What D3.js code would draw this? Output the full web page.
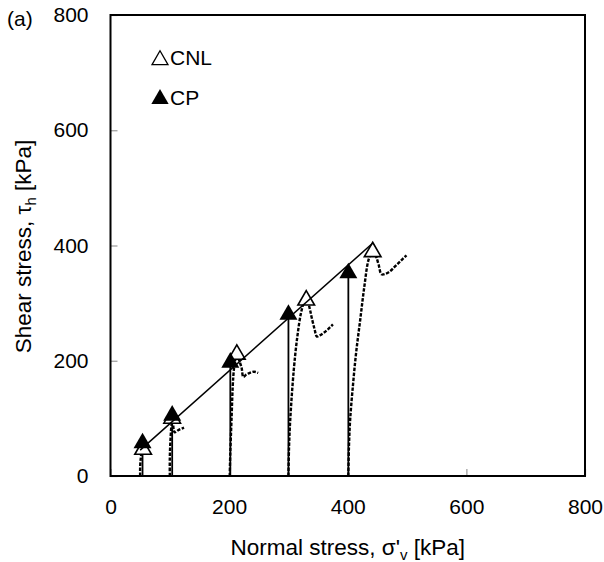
<!DOCTYPE html>
<html>
<head>
<meta charset="utf-8">
<script src="https://cdn.jsdelivr.net/npm/d3@7"></script>
<style>
  body { margin: 0; background: #fff; }
  svg { font-family: Arial, "Liberation Sans", sans-serif; }
</style>
</head>
<body>
<svg width="604" height="562"></svg>
<script>
// ---- data ----
var xTicks = [0, 200, 400, 600, 800];
var yTicks = [0, 200, 400, 600, 800];

// CNL stress paths (dashed), [sigma, tau]
var cnl50  = [[50,0],[50,15],[51,30],[53,42],[56,44],[60,40]];
var cnl100 = [[100,0],[100,30],[101,60],[103,90],[105,100],[108,76],[115,80],[124,84]];
var cnl200 = [[201,0],[202,40],[204,97],[207,172],[210,200],[213,210],[217,200],[221,188],[224,172],[229,176],[235,179],[242,181],[249,179]];
var cnl300 = [[300,0],[301,50],[303,97],[309,184],[315,242],[321,282],[326,300],[331,306],[336,290],[339,276],[344,255],[348,242],[353,244],[359,248],[366,254],[375,263]];
var cnl400 = [[401,0],[402,50],[404,97],[409,160],[414,213],[421,271],[428,329],[435,375],[440,386],[444,388],[448,380],[452,367],[457,350],[464,351],[471,355],[478,362],[485,369],[492,376],[499,383]];
var cnlPaths = [cnl50, cnl100, cnl200, cnl300, cnl400];

// CNL peaks (open triangles)
var cnlPeakX = [55, 104, 213, 330, 442];
var cnlPeakY = [46, 100, 211, 305, 389];

// CP tests: normal stress and peak (filled triangles)
var cpX = [54, 104, 202, 300, 401];
var cpY = [57, 105, 197, 280, 352];

// failure envelope
var envX = [50, 441];
var envY = [45, 403];

// ---- layout ----
var svg = d3.select("svg");
var mLeft = 110.5, mRight = 585, mTop = 15, mBottom = 476;

var x = d3.scaleLinear().domain([0, 800]).range([mLeft, mRight]);
var y = d3.scaleLinear().domain([0, 800]).range([mBottom, mTop]);

// axes: inner gray ticks + labels
var xAxis = svg.append("g")
    .attr("transform", "translate(0," + mBottom + ")")
    .call(d3.axisBottom(x).tickValues(xTicks).tickSize(-7).tickPadding(23));
var yAxis = svg.append("g")
    .attr("transform", "translate(" + mLeft + ",0)")
    .call(d3.axisLeft(y).tickValues(yTicks).tickSize(-7).tickPadding(22));

[xAxis, yAxis].forEach(function(a) {
    a.select(".domain").remove();
    a.selectAll(".tick line").attr("stroke", "#999").attr("stroke-width", 1.2);
    a.selectAll(".tick text").attr("font-size", 21).attr("fill", "#000")
        .attr("font-family", "Arial, 'Liberation Sans', sans-serif");
});

// stress paths
var line = d3.line()
    .x(function(d) { return x(d[0]); })
    .y(function(d) { return y(d[1]); })
    .curve(d3.curveCatmullRom);

svg.append("g").selectAll("path")
    .data(cnlPaths)
    .enter().append("path")
    .attr("d", line)
    .attr("fill", "none")
    .attr("stroke", "#000")
    .attr("stroke-width", 2.4)
    .attr("stroke-dasharray", "3.5,1.5");

// CP vertical paths
svg.append("g").selectAll("line")
    .data(cpX)
    .enter().append("line")
    .attr("x1", function(d) { return x(d); })
    .attr("x2", function(d) { return x(d); })
    .attr("y1", y(0))
    .attr("y2", function(d, i) { return y(cpY[i]); })
    .attr("stroke", "#000")
    .attr("stroke-width", 1.8);

// open triangles (CNL peaks)
var tri = d3.symbol().type(d3.symbolTriangle).size(120);
svg.append("g").selectAll("path")
    .data(cnlPeakX)
    .enter().append("path")
    .attr("d", tri)
    .attr("transform", function(d, i) { return "translate(" + x(d) + "," + y(cnlPeakY[i]) + ")"; })
    .attr("fill", "#fff")
    .attr("stroke", "#000")
    .attr("stroke-width", 1.6);

// failure envelope
svg.append("line")
    .attr("x1", x(envX[0])).attr("y1", y(envY[0]))
    .attr("x2", x(envX[1])).attr("y2", y(envY[1]))
    .attr("stroke", "#000")
    .attr("stroke-width", 1.5);

// filled triangles (CP)
svg.append("g").selectAll("path")
    .data(cpX)
    .enter().append("path")
    .attr("d", d3.symbol().type(d3.symbolTriangle).size(140))
    .attr("transform", function(d, i) { return "translate(" + x(d) + "," + y(cpY[i]) + ")"; })
    .attr("fill", "#000");

// frame
svg.append("rect")
    .attr("x", mLeft).attr("y", mTop)
    .attr("width", mRight - mLeft).attr("height", mBottom - mTop)
    .attr("fill", "none")
    .attr("stroke", "#000")
    .attr("stroke-width", 2);

// legend
svg.append("path")
    .attr("d", d3.symbol().type(d3.symbolTriangle).size(110))
    .attr("transform", "translate(160,60)")
    .attr("fill", "#fff").attr("stroke", "#000").attr("stroke-width", 1.3);
svg.append("text").attr("x", 170).attr("y", 65).attr("font-size", 21).text("CNL");
svg.append("path")
    .attr("d", d3.symbol().type(d3.symbolTriangle).size(130))
    .attr("transform", "translate(160,99)")
    .attr("fill", "#000");
svg.append("text").attr("x", 170).attr("y", 105).attr("font-size", 21).text("CP");

// panel label
svg.append("text").attr("x", 7).attr("y", 26).attr("font-size", 21).text("(a)");

// axis titles
var xt = svg.append("text")
    .attr("x", (mLeft + mRight) / 2).attr("y", 555)
    .attr("text-anchor", "middle").attr("font-size", 22.5);
xt.append("tspan").text("Normal stress, \u03c3'");
xt.append("tspan").attr("font-size", 15).attr("dy", 5).text("v");
xt.append("tspan").attr("dy", -5).text(" [kPa]");

var yt = svg.append("text")
    .attr("transform", "translate(31," + ((mTop + mBottom) / 2 + 1) + ") rotate(-90)")
    .attr("text-anchor", "middle").attr("font-size", 22.5);
yt.append("tspan").text("Shear stress, \u03c4");
yt.append("tspan").attr("font-size", 15).attr("dy", 5).text("h");
yt.append("tspan").attr("dy", -5).text(" [kPa]");
</script>
</body>
</html>
